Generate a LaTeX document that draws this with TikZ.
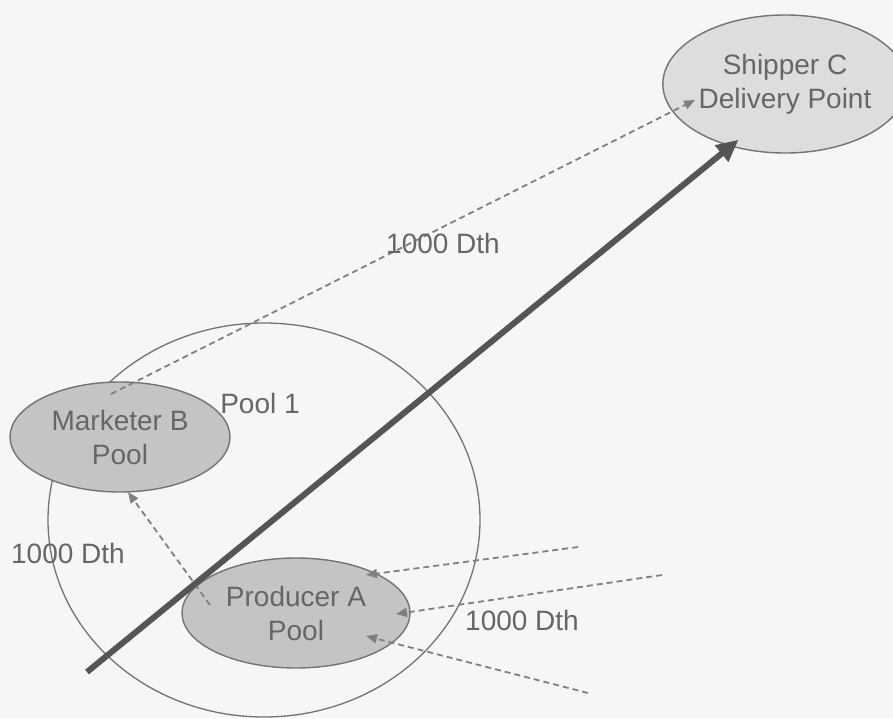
\documentclass[tikz,border=0pt]{standalone}
\usepackage{fontspec}
\setmainfont{Liberation Sans}
\usetikzlibrary{shapes.geometric,arrows.meta}
\definecolor{bg}{HTML}{F6F6F6}
\definecolor{txt}{HTML}{666666}
\definecolor{edge}{HTML}{737373}
\definecolor{dash}{HTML}{808080}
\definecolor{poolfill}{HTML}{C4C4C4}
\definecolor{shipfill}{HTML}{DDDDDD}
\definecolor{thick}{HTML}{555555}
\tikzset{
  pool/.style={ellipse, draw=edge, line width=1.4pt, inner sep=0pt, text=txt,
    align=center, font=\fontsize{28}{34}\selectfont},
  lbl/.style={text=txt, font=\fontsize{28}{34}\selectfont, inner sep=0pt},
  flow/.style={draw=dash, line width=1.8pt, dash pattern=on 6pt off 4pt,
    -{Triangle[length=11pt,width=9pt,fill=dash]}},
  big/.style={draw=thick, line width=6pt,
    -{Triangle[length=22pt,width=20pt,fill=thick]}, shorten >=-2pt}
}
\begin{document}
\begin{tikzpicture}[x=1pt,y=-1pt]
\fill[bg] (0,0) rectangle (893,718);
\useasboundingbox (0,0) rectangle (893,718);
% Pool 1 circle
\node[ellipse, draw=edge, line width=1.3pt, minimum width=432pt, minimum height=394pt] (pool1) at (264,520) {};
\node[lbl] (pool1lbl) at (260,403) {Pool 1};
% pools
\node[pool, fill=poolfill, minimum width=220pt, minimum height=110pt] (mkt) at (120,437) {Marketer B\\Pool};
\node[pool, fill=poolfill, minimum width=228pt, minimum height=110pt] (prd) at (296,613) {Producer A\\Pool};
\node[pool, fill=shipfill, minimum width=210pt, minimum height=138pt] (shp) at (785,84) {Shipper C\\Delivery Point};
% coordinates
\coordinate (mktout) at (111,394);
\coordinate (shpin) at (695,100);
\coordinate (prdout) at (210,605);
\coordinate (mktin) at (128,492);
\coordinate (s1) at (578,547);
\coordinate (s2) at (662,575);
\coordinate (s3) at (588,693);
\coordinate (t1) at (366,575);
\coordinate (t2) at (396,614);
\coordinate (t3) at (366,636);
\coordinate (thstart) at (87,672);
\coordinate (thend) at (737,141);
% connectors
\draw[flow] (mktout) -- (shpin);
\draw[flow] (prdout) -- (mktin);
\draw[flow] (s1) -- (t1);
\draw[flow] (s2) -- (t2);
\draw[flow] (s3) -- (t3);
\draw[big] (thstart) -- (thend);
% labels
\node[lbl] (l1) at (443,243) {1000 Dth};
\node[lbl] (l2) at (68,553) {1000 Dth};
\node[lbl] (l3) at (522,620) {1000 Dth};
\end{tikzpicture}
\end{document}
